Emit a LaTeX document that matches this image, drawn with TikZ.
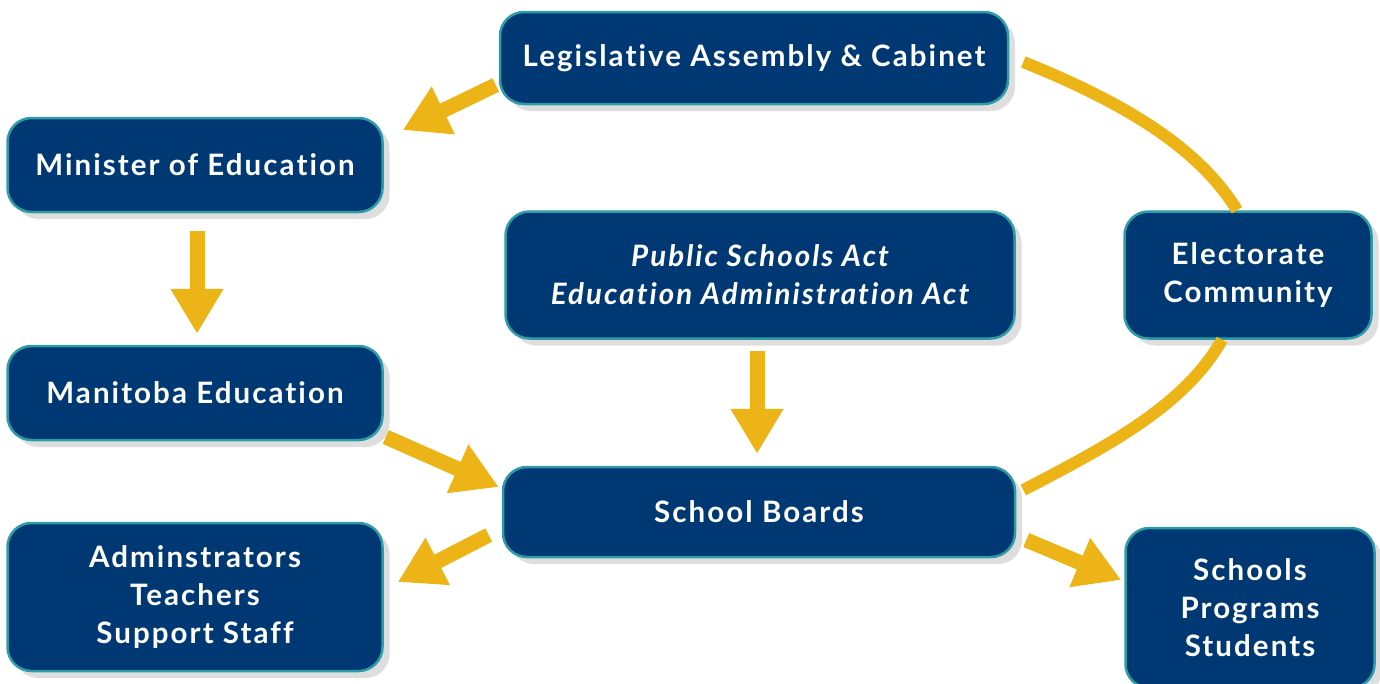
\documentclass[tikz,border=0pt]{standalone}
\usepackage{fontspec}
\setmainfont{Lato}[LetterSpace=7,Ligatures=NoCommon]
\usetikzlibrary{arrows.meta,shadows}
\definecolor{boxblue}{HTML}{003873}
\definecolor{boxedge}{HTML}{2E9CA6}
\definecolor{arrowgold}{HTML}{EDB417}
\begin{document}
\begin{tikzpicture}[x=1pt,y=-1pt,
  box/.style={draw=boxedge, line width=2.5pt, fill=boxblue, rounded corners=24pt,
    text=white, align=center, font=\fontsize{29.5}{38}\selectfont\bfseries, inner sep=0pt,
    drop shadow={shadow xshift=7pt, shadow yshift=-7pt, opacity=0.13, fill=black}},
  flow/.style={arrowgold, line width=15pt, -{Triangle[width=50pt,length=45pt]}},
  link/.style={arrowgold, line width=12pt}]
\useasboundingbox (0,0) rectangle (1380,683);
\node[box, minimum width=508pt, minimum height=92pt] (leg) at (754,58) {Legislative Assembly \& Cabinet};
\node[box, minimum width=375pt, minimum height=94pt] (min) at (195,165) {Minister of Education};
\node[box, minimum width=375pt, minimum height=94pt] (man) at (195,393) {Manitoba Education};
\node[box, minimum width=375pt, minimum height=148pt] (adm) at (195,597) {Adminstrators\\Teachers\\Support Staff};
\node[box, minimum width=509pt, minimum height=127pt] (psa) at (760,275) {\itshape Public Schools Act\\\itshape Education Administration Act};
\node[box, minimum width=512pt, minimum height=90pt] (sb) at (759,512) {School Boards};
\node[box, minimum width=247pt, minimum height=127pt] (elec) at (1248,275) {Electorate\\Community};
\node[box, minimum width=249pt, minimum height=160pt] (sch) at (1250,608) {Schools\\Programs\\Students};
% curves
\draw[link] ([shift={(14,4)}]leg.east) .. controls (1130,105) and (1200,150) .. ([shift={(-11,0)}]elec.north);
\draw[link] ([shift={(-26,0)}]elec.south) .. controls (1185,405) and (1110,445) .. ([shift={(7,-22)}]sb.east);
% arrows
\draw[flow] ([shift={(-3,27)}]leg.west) -- ([shift={(19,-35)}]min.east);
\draw[flow] ([shift={(2,18)}]min.south) -- ([shift={(2,-11)}]man.north);
\draw[flow] ([shift={(-3,11)}]psa.south) -- ([shift={(-2,-12)}]sb.north);
\draw[flow] ([shift={(2,44)}]man.east) -- ([shift={(-3,-25)}]sb.west);
\draw[flow] ([shift={(-13,23)}]sb.west) -- ([shift={(14,-15)}]adm.east);
\draw[flow] ([shift={(10,28)}]sb.east) -- ([shift={(-3,-28)}]sch.west);
\end{tikzpicture}
\end{document}
